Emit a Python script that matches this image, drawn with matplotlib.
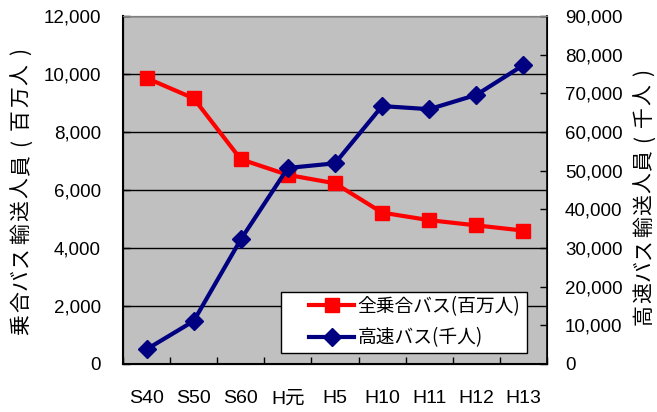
import matplotlib
matplotlib.use("Agg")
import matplotlib.pyplot as plt
from matplotlib.ticker import FuncFormatter, FixedLocator
from matplotlib.patches import Rectangle

plt.rcParams['font.family'] = ['Liberation Sans', 'Noto Sans CJK JP', 'DejaVu Sans']

categories = ["S40", "S50", "S60", "H元", "H5", "H10", "H11", "H12", "H13"]
all_bus = [9860, 9160, 7060, 6520, 6230, 5220, 4960, 4780, 4600]      # 百万人
express_bus = [3800, 11100, 32200, 50700, 51900, 66700, 65900, 69600, 77300]  # 千人

left_label = "乗合バス輸送人員(百万人)"
right_label = "高速バス輸送人員(千人)"
legend_labels = ["全乗合バス(百万人)", "高速バス(千人)"]

W, H = 657, 412
fig = plt.figure(figsize=(W/100, H/100), dpi=100)
ax = fig.add_axes([123/W, (H-364)/H, 424/W, 348/H])
ax.set_facecolor("#C0C0C0")
ax2 = ax.twinx()

x = list(range(len(categories)))
l1, = ax.plot(x, all_bus, color="#FF0000", lw=3, marker="s", markersize=10, zorder=3)
l2, = ax2.plot(x, express_bus, color="#000080", lw=3, marker="D", markersize=9, zorder=3)

ax.set_xlim(-0.5, len(categories) - 0.5)
ax.set_ylim(0, 12000)
ax2.set_ylim(0, 90000)
ax.set_yticks(range(0, 12001, 2000))
ax2.set_yticks(range(0, 90001, 10000))
fmt = FuncFormatter(lambda v, p: f"{int(v):,}")
ax.yaxis.set_major_formatter(fmt)
ax2.yaxis.set_major_formatter(fmt)

ax.set_xticks(x)
ax.set_xticklabels(categories)
ax.xaxis.set_minor_locator(FixedLocator([i + 0.5 for i in range(-1, len(categories))]))
ax.tick_params(axis='x', which='major', length=0, pad=19, labelsize=14)
ax.tick_params(axis='x', which='minor', direction='in', length=5, width=1)
ax.tick_params(axis='y', direction='in', length=5, width=1, pad=16, labelsize=13.5)
ax2.tick_params(axis='y', direction='in', length=5, width=1, pad=13, labelsize=13.5)

ax.grid(axis='y', color='black', lw=1)
ax.set_axisbelow(True)

for sp in ['left', 'bottom']:
    ax.spines[sp].set_color('black')
    ax.spines[sp].set_linewidth(1.5)
ax2.spines['right'].set_color('black')
ax2.spines['right'].set_linewidth(1.2)
ax2.spines['top'].set_color('#808080')
ax.spines['top'].set_color('#808080')


def spaced_vertical(text, xc, ytop, ybot, size):
    n = len(text)
    step = (ybot - ytop) / n
    for i, ch in enumerate(text):
        yc = ybot - step * (i + 0.5)
        fig.text(xc / W, 1 - yc / H, ch, rotation=90, ha='center', va='center',
                 fontsize=size, family=['Noto Sans CJK JP', 'DejaVu Sans'])


spaced_vertical(left_label, 21, 40, 336, 15)
spaced_vertical(right_label, 644, 62, 326, 15)

# legend box
fig.add_artist(Rectangle((281/W, (H-353)/H), 246/W, 61/H, transform=fig.transFigure,
                         facecolor='white', edgecolor='black', lw=1, zorder=4))
leg = fig.legend([l1, l2], legend_labels, loc='upper left',
                 bbox_to_anchor=(309/W, (H-296)/H), bbox_transform=fig.transFigure,
                 prop={'family': ['Noto Sans CJK JP'], 'size': 13.5},
                 frameon=False, borderpad=0, borderaxespad=0,
                 handlelength=2.4, labelspacing=0.55, handletextpad=0.2)
leg.set_zorder(5)

fig.savefig("out.png", dpi=100)
